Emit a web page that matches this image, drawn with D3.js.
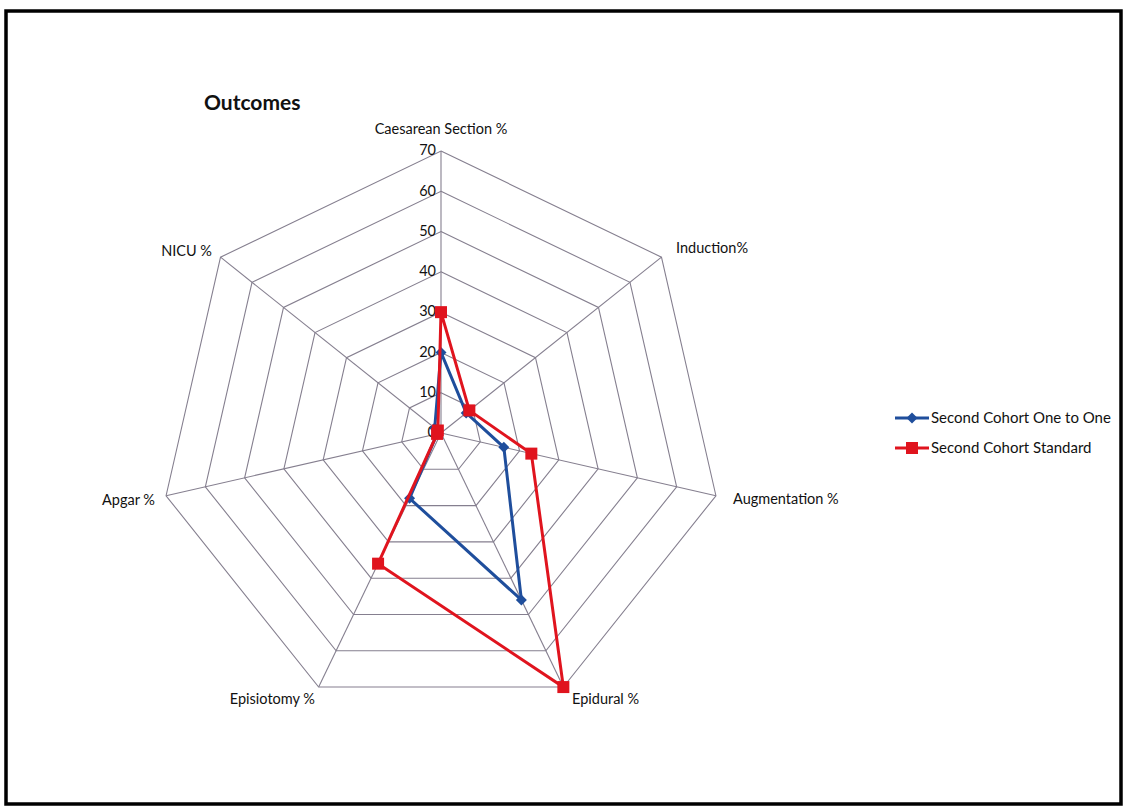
<!DOCTYPE html>
<html>
<head>
<meta charset="utf-8">
<script src="https://cdn.jsdelivr.net/npm/d3@7"></script>
<style>
  body { margin: 0; background: #fff; }
  svg { font-family: Lato, "Open Sans", sans-serif; }
</style>
</head>
<body>
<svg width="1128" height="812"></svg>
<script>
// data
const axes = ["Caesarean Section %", "Induction%", "Augmentation %", "Epidural %", "Episiotomy %", "Apgar %", "NICU %"];
const oneToOne = [20, 8, 16, 46, 18, 1, 2];
const standard = [30, 9, 23, 70, 36, 1, 1];
const ticks = [0, 10, 20, 30, 40, 50, 60, 70];

const series = [
    { name: "Second Cohort One to One", values: oneToOne, color: "#1f4e9c", shape: "diamond" },
    { name: "Second Cohort Standard", values: standard, color: "#e0141e", shape: "square" }
];

const svg = d3.select("svg"),
    cx = 441, cy = 433, radius = 282;

// frame
svg.append("rect")
    .attr("x", 6).attr("y", 11)
    .attr("width", 1115).attr("height", 793)
    .attr("fill", "none")
    .attr("stroke", "#000")
    .attr("stroke-width", 3.5);

const r = d3.scaleLinear().domain([0, 70]).range([0, radius]);
const angle = i => -Math.PI / 2 + i * 2 * Math.PI / axes.length;
const pt = (i, v) => [cx + r(v) * Math.cos(angle(i)), cy + r(v) * Math.sin(angle(i))];

const g = svg.append("g");

// grid rings
ticks.filter(t => t > 0).forEach(t => {
    g.append("polygon")
        .attr("points", axes.map((a, i) => pt(i, t).join(",")).join(" "))
        .attr("fill", "none")
        .attr("stroke", "#857f8f")
        .attr("stroke-width", 1.1);
});

// spokes
axes.forEach((a, i) => {
    const [x, y] = pt(i, 70);
    g.append("line")
        .attr("x1", cx).attr("y1", cy)
        .attr("x2", x).attr("y2", y)
        .attr("stroke", "#857f8f")
        .attr("stroke-width", 1.1);
});

// tick labels
g.selectAll(".tick")
    .data(ticks)
    .enter().append("text")
    .attr("x", cx - 5)
    .attr("y", d => cy - r(d))
    .attr("dy", "0.3em")
    .attr("text-anchor", "end")
    .attr("font-size", 14.5)
    .attr("fill", "#111")
    .text(d => d);

// axis labels
const labelPos = [
    { x: 441, y: 134, anchor: "middle" },
    { x: 676, y: 253, anchor: "start" },
    { x: 733, y: 504, anchor: "start" },
    { x: 572, y: 704, anchor: "start" },
    { x: 315, y: 704, anchor: "end" },
    { x: 155, y: 505, anchor: "end" },
    { x: 212, y: 256, anchor: "end" }
];
axes.forEach((a, i) => {
    g.append("text")
        .attr("x", labelPos[i].x)
        .attr("y", labelPos[i].y)
        .attr("text-anchor", labelPos[i].anchor)
        .attr("font-size", 14.5)
        .attr("fill", "#111")
        .text(a);
});

// title
svg.append("text")
    .attr("x", 204).attr("y", 110)
    .attr("font-size", 21)
    .attr("font-weight", "bold")
    .attr("fill", "#111")
    .text("Outcomes");

function marker(sel, shape, color, x, y) {
    if (shape === "square") {
        sel.append("rect")
            .attr("x", x - 6).attr("y", y - 6)
            .attr("width", 12).attr("height", 12)
            .attr("fill", color);
    } else {
        sel.append("path")
            .attr("d", `M${x},${y - 5.5}L${x + 5.5},${y}L${x},${y + 5.5}L${x - 5.5},${y}Z`)
            .attr("fill", color);
    }
}

const lineGen = d3.line().curve(d3.curveLinearClosed);

series.forEach(s => {
    const pts = s.values.map((v, i) => pt(i, v));
    g.append("path")
        .attr("d", lineGen(pts))
        .attr("fill", "none")
        .attr("stroke", s.color)
        .attr("stroke-width", 3);
    pts.forEach(p => marker(g, s.shape, s.color, p[0], p[1]));
});

// legend
const legend = svg.append("g");
series.forEach((s, i) => {
    const y = 418 + i * 30;
    legend.append("line")
        .attr("x1", 895).attr("x2", 929)
        .attr("y1", y).attr("y2", y)
        .attr("stroke", s.color)
        .attr("stroke-width", 3);
    marker(legend, s.shape, s.color, 912, y);
    legend.append("text")
        .attr("x", 931).attr("y", y)
        .attr("dy", "0.35em")
        .attr("font-size", 15)
        .attr("fill", "#111")
        .text(s.name);
});
</script>
</body>
</html>
